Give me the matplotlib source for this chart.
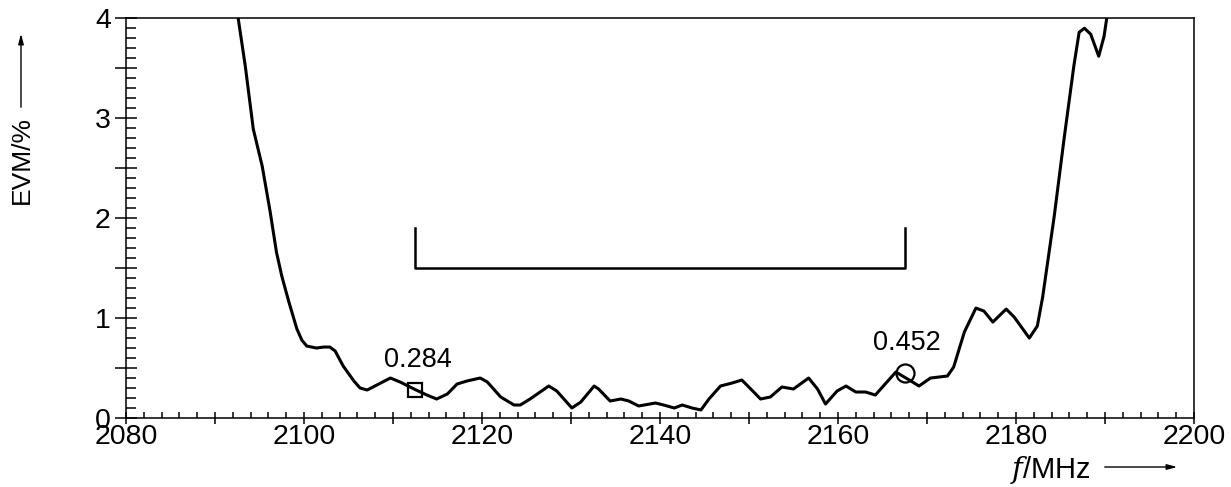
import matplotlib
matplotlib.use("Agg")
import matplotlib.pyplot as plt
from matplotlib import font_manager
from matplotlib.ticker import MultipleLocator, FuncFormatter

# EVM trace
freq_mhz = [2092.6, 2093.4, 2094.3, 2095.3, 2096.2, 2096.9, 2097.5, 2098.3, 2099.2, 2099.75,
            2100.3, 2101.4, 2102.2, 2102.9, 2103.5, 2104.4, 2105.6, 2106.3, 2107.1, 2108.4,
            2109.7, 2110.8, 2112.5, 2113.8, 2114.9, 2116.1, 2117.2, 2118.3, 2119.8, 2120.6,
            2122.1, 2123.6, 2124.3, 2125.4, 2127.5, 2128.4, 2130.1, 2131.1, 2132.6, 2133.1,
            2134.4, 2135.6, 2136.5, 2137.6, 2139.5, 2140.4, 2141.6, 2142.5, 2143.6, 2144.6,
            2145.5, 2146.8, 2148.1, 2149.2, 2150.2, 2151.3, 2152.4, 2153.7, 2155.0, 2156.7,
            2157.7, 2158.6, 2159.9, 2160.9, 2162.0, 2163.1, 2164.2, 2165.5, 2166.5, 2168.2,
            2169.1, 2170.4, 2172.3, 2173.0, 2174.2, 2175.5, 2176.4, 2177.4, 2178.9, 2179.8,
            2181.5, 2182.4, 2183.0, 2184.3, 2185.4, 2186.5, 2187.1, 2187.7, 2188.4, 2189.3,
            2189.9, 2190.2]
evm_pct = [4.00, 3.52, 2.89, 2.52, 2.06, 1.66, 1.42, 1.16, 0.89, 0.78,
           0.72, 0.70, 0.71, 0.71, 0.67, 0.52, 0.37, 0.30, 0.28, 0.34,
           0.40, 0.36, 0.284, 0.23, 0.19, 0.24, 0.34, 0.37, 0.40, 0.36,
           0.21, 0.13, 0.13, 0.19, 0.32, 0.27, 0.10, 0.16, 0.32, 0.29,
           0.17, 0.19, 0.17, 0.12, 0.15, 0.13, 0.10, 0.13, 0.10, 0.08,
           0.19, 0.32, 0.35, 0.38, 0.29, 0.19, 0.21, 0.31, 0.29, 0.40,
           0.29, 0.14, 0.27, 0.32, 0.26, 0.26, 0.23, 0.36, 0.46, 0.37,
           0.32, 0.40, 0.42, 0.51, 0.86, 1.10, 1.07, 0.96, 1.09, 1.01,
           0.80, 0.92, 1.21, 2.02, 2.79, 3.52, 3.86, 3.90, 3.84, 3.62,
           3.82, 4.00]

# marked points
min_f, min_evm = 2112.5, 0.284
max_f, max_evm = 2167.5, 0.452

# band bracket
band_lo, band_hi = 2112.5, 2167.5
bracket_base, bracket_top = 1.5, 1.9


def pick_font(*names):
    have = {f.name for f in font_manager.fontManager.ttflist}
    for n in names:
        if n in have:
            return n
    return "DejaVu Sans"


tick_font = pick_font("Liberation Sans Narrow", "Liberation Sans", "DejaVu Sans")
text_font = pick_font("Liberation Sans", "DejaVu Sans")

fig = plt.figure(figsize=(12.31, 4.87), dpi=100)
ax = fig.add_axes([0.1024, 0.1417, 0.8675, 0.8208])

ax.plot(freq_mhz, evm_pct, color='black', lw=2.2, solid_joinstyle='round', solid_capstyle='round')
ax.plot([band_lo, band_lo, band_hi, band_hi], [bracket_top, bracket_base, bracket_base, bracket_top],
        color='black', lw=1.8)
ax.plot([min_f], [min_evm], marker='s', ms=10, mfc='none', mec='black', mew=1.6)
ax.plot([max_f], [max_evm], marker='o', ms=13, mfc='none', mec='black', mew=1.6)
ax.text(min_f + 0.3, 0.58, f'{min_evm:.3f}', ha='center', va='center', fontsize=19.5, family=text_font)
ax.text(max_f + 0.2, 0.755, f'{max_evm:.3f}', ha='center', va='center', fontsize=19.5, family=text_font)

ax.set_xlim(2080, 2200)
ax.set_ylim(0, 4)

ax.xaxis.set_major_locator(MultipleLocator(10))
ax.xaxis.set_minor_locator(MultipleLocator(2))
ax.yaxis.set_major_locator(MultipleLocator(0.5))
ax.yaxis.set_minor_locator(MultipleLocator(0.1))
ax.xaxis.set_major_formatter(FuncFormatter(lambda v, p: f'{v:.0f}' if round(v) % 20 == 0 else ''))
ax.yaxis.set_major_formatter(FuncFormatter(lambda v, p: f'{v:.0f}' if abs(v - round(v)) < 1e-6 else ''))

ax.tick_params(axis='x', which='major', direction='inout', length=8, width=1.1, pad=0,
               labelsize=20.5, top=False)
ax.tick_params(axis='x', which='minor', direction='in', length=4.5, width=1.1, top=False)
ax.tick_params(axis='y', which='major', direction='inout', length=16, width=1.1, pad=3,
               labelsize=20.5, right=False)
ax.tick_params(axis='y', which='minor', direction='in', length=7.5, width=1.1, right=False)
for lab in ax.get_xticklabels() + ax.get_yticklabels():
    lab.set_family(tick_font)

for s in ax.spines.values():
    s.set_linewidth(1.1)

# axis captions with arrows, drawn in figure pixels
fig.text(22 / 1231, 1 - 160 / 487, 'EVM/%', rotation=90, ha='center', va='center',
         fontsize=19, family=tick_font)
fig.patches.append(matplotlib.patches.FancyArrowPatch(
    (21 / 1231, 1 - 110 / 487), (21 / 1231, 1 - 31 / 487), transform=fig.transFigure,
    arrowstyle='-|>,head_length=6,head_width=1.6', color='black', lw=1.0))

fig.text(1010 / 1231, 1 - 470 / 487, r'$f$/MHz', ha='left', va='center', fontsize=21,
         family=tick_font, math_fontfamily='dejavuserif')
fig.patches.append(matplotlib.patches.FancyArrowPatch(
    (1102 / 1231, 1 - 467 / 487), (1180 / 1231, 1 - 467 / 487), transform=fig.transFigure,
    arrowstyle='-|>,head_length=6,head_width=1.6', color='black', lw=1.0))

fig.savefig('out.png', dpi=100)
